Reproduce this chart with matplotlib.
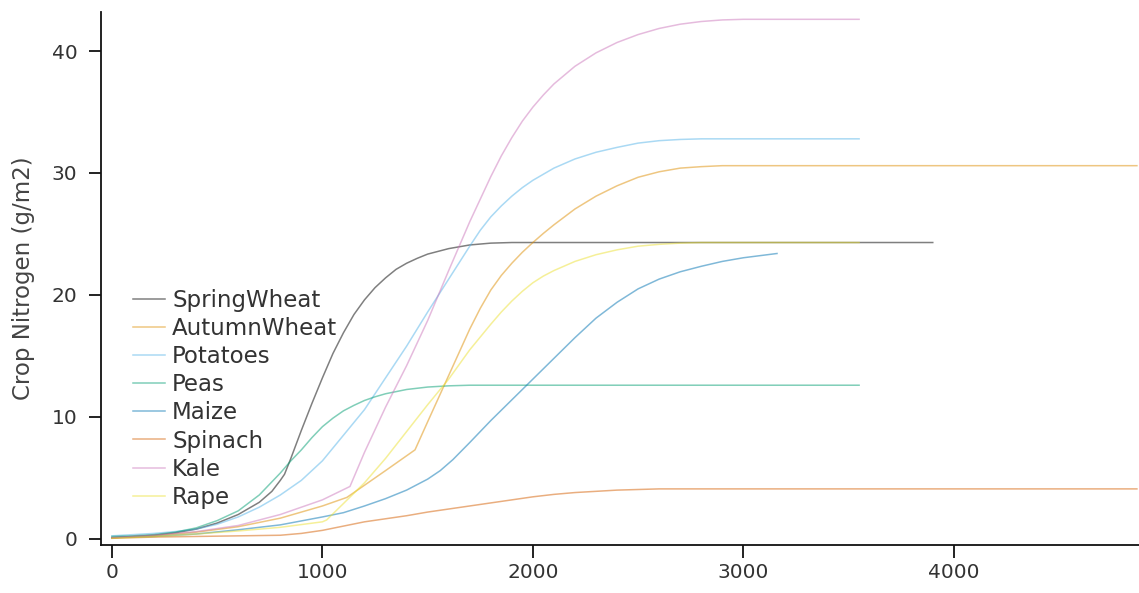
import matplotlib
matplotlib.use("Agg")
import matplotlib.pyplot as plt

# Thermal time (x) and crop nitrogen (g/m2) for each crop
springwheat_x = [0, 100, 200, 300, 400, 500, 600, 700, 760, 800, 820, 850, 900, 950, 1000, 1050, 1100, 1150, 1200, 1250, 1300, 1350, 1400, 1450, 1500, 1600, 1700, 1800, 1900, 3900]
springwheat_y = [0.1, 0.2, 0.3, 0.5, 0.8, 1.3, 2.0, 3.0, 3.9, 4.8, 5.3, 6.6, 8.9, 11.1, 13.2, 15.2, 16.9, 18.4, 19.6, 20.6, 21.4, 22.1, 22.6, 23.0, 23.35, 23.8, 24.1, 24.25, 24.3, 24.3]

autumnwheat_x = [0, 200, 400, 600, 800, 1000, 1116, 1200, 1300, 1440, 1500, 1600, 1700, 1750, 1800, 1850, 1900, 1950, 2000, 2050, 2100, 2200, 2300, 2400, 2500, 2600, 2700, 2800, 2900, 4870]
autumnwheat_y = [0.1, 0.25, 0.55, 1.0, 1.7, 2.7, 3.4, 4.4, 5.6, 7.3, 9.6, 13.4, 17.2, 18.9, 20.4, 21.6, 22.6, 23.5, 24.3, 25.05, 25.75, 27.05, 28.1, 28.95, 29.65, 30.1, 30.4, 30.52, 30.6, 30.6]

potatoes_x = [0, 200, 300, 400, 500, 600, 700, 800, 900, 1000, 1100, 1200, 1300, 1400, 1500, 1600, 1700, 1750, 1800, 1850, 1900, 1950, 2000, 2100, 2200, 2300, 2400, 2500, 2600, 2700, 2800, 3550]
potatoes_y = [0.25, 0.45, 0.6, 0.8, 1.2, 1.8, 2.6, 3.6, 4.8, 6.4, 8.5, 10.6, 13.2, 15.8, 18.6, 21.3, 24.0, 25.3, 26.4, 27.3, 28.1, 28.8, 29.4, 30.4, 31.15, 31.7, 32.1, 32.45, 32.65, 32.75, 32.8, 32.8]

peas_x = [0, 100, 200, 300, 400, 500, 600, 700, 800, 850, 900, 950, 1000, 1050, 1100, 1150, 1200, 1250, 1300, 1400, 1500, 1600, 1700, 1800, 3550]
peas_y = [0.2, 0.25, 0.35, 0.55, 0.9, 1.5, 2.3, 3.6, 5.4, 6.4, 7.3, 8.3, 9.2, 9.9, 10.5, 10.95, 11.35, 11.65, 11.9, 12.25, 12.45, 12.55, 12.6, 12.6, 12.6]

maize_x = [0, 200, 400, 600, 800, 1000, 1100, 1200, 1300, 1400, 1500, 1560, 1620, 1700, 1800, 1900, 2000, 2100, 2200, 2300, 2400, 2500, 2600, 2700, 2800, 2900, 3000, 3160]
maize_y = [0.1, 0.2, 0.4, 0.75, 1.15, 1.8, 2.15, 2.7, 3.3, 4.0, 4.9, 5.6, 6.5, 7.9, 9.7, 11.4, 13.1, 14.8, 16.5, 18.1, 19.4, 20.5, 21.3, 21.9, 22.35, 22.75, 23.05, 23.4]

spinach_x = [0, 200, 400, 600, 800, 900, 1000, 1100, 1200, 1300, 1400, 1500, 1600, 1700, 1800, 1900, 2000, 2100, 2200, 2300, 2400, 2500, 2600, 2800, 4870]
spinach_y = [0.05, 0.15, 0.2, 0.25, 0.3, 0.45, 0.7, 1.05, 1.4, 1.65, 1.9, 2.2, 2.45, 2.7, 2.95, 3.2, 3.45, 3.65, 3.8, 3.9, 4.0, 4.05, 4.1, 4.1, 4.1]

kale_x = [0, 200, 400, 600, 800, 1000, 1131, 1200, 1300, 1400, 1500, 1600, 1700, 1800, 1850, 1900, 1950, 2000, 2050, 2100, 2200, 2300, 2400, 2500, 2600, 2700, 2800, 2900, 3000, 3550]
kale_y = [0.1, 0.3, 0.6, 1.1, 2.0, 3.2, 4.3, 7.1, 10.8, 14.2, 17.9, 22.0, 26.0, 29.7, 31.4, 32.9, 34.25, 35.4, 36.4, 37.3, 38.75, 39.85, 40.7, 41.35, 41.85, 42.2, 42.42, 42.55, 42.6, 42.6]

rape_x = [0, 200, 400, 600, 800, 1000, 1020, 1100, 1200, 1300, 1400, 1500, 1600, 1700, 1800, 1850, 1900, 1950, 2000, 2050, 2100, 2200, 2300, 2400, 2500, 2600, 2700, 2800, 3550]
rape_y = [0.05, 0.2, 0.4, 0.65, 0.95, 1.4, 1.55, 2.9, 4.6, 6.6, 8.8, 11.0, 13.1, 15.5, 17.6, 18.6, 19.5, 20.3, 21.0, 21.55, 22.0, 22.75, 23.3, 23.7, 24.0, 24.15, 24.25, 24.3, 24.3]

crops = ["SpringWheat", "AutumnWheat", "Potatoes", "Peas", "Maize", "Spinach", "Kale", "Rape"]
series = [
    (springwheat_x, springwheat_y),
    (autumnwheat_x, autumnwheat_y),
    (potatoes_x, potatoes_y),
    (peas_x, peas_y),
    (maize_x, maize_y),
    (spinach_x, spinach_y),
    (kale_x, kale_y),
    (rape_x, rape_y),
]
colors = ["#000000", "#de8f05", "#56b4e9", "#029e73", "#0173b2", "#d55e00", "#cc78bc", "#ece133"]

xticks = [0, 1000, 2000, 3000, 4000]
yticks = [0, 10, 20, 30, 40]

fig = plt.figure(figsize=(11.39, 5.93), dpi=100)
ax = fig.add_axes([101 / 1139, 48 / 593, 1038 / 1139, 533 / 593])

for name, (xs, ys), c in zip(crops, series, colors):
    ax.plot(xs, ys, color=c, alpha=0.5, lw=1.1, label=name)

ax.set_xlim(-52, 4880)
ax.set_ylim(-0.5, 43.2)
ax.set_xticks(xticks)
ax.set_yticks(yticks)

for side in ("top", "right"):
    ax.spines[side].set_visible(False)
for side in ("left", "bottom"):
    ax.spines[side].set_color("#111111")
    ax.spines[side].set_linewidth(1.3)

ax.tick_params(axis="both", direction="out", length=9, width=1.3, color="#111111",
               labelsize=14.5, labelcolor="#333333")
ax.tick_params(axis="x", pad=4)
ax.tick_params(axis="y", pad=8)
ax.set_ylabel("Crop Nitrogen (g/m2)", fontsize=16.5, color="#444444", labelpad=12)

leg = ax.legend(loc="center left", bbox_to_anchor=(0.031, 0.274), frameon=False,
                fontsize=16.5, handlelength=1.4, handletextpad=0.3,
                labelspacing=0.22, borderpad=0, borderaxespad=0)
for t in leg.get_texts():
    t.set_color("#333333")

fig.savefig("out.png", dpi=100)
